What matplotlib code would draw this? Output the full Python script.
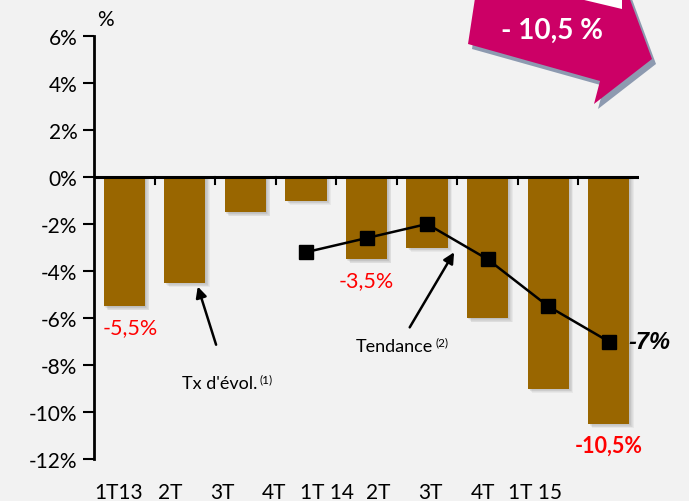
import numpy as np
import matplotlib.pyplot as plt
from matplotlib.patches import Polygon

plt.rcParams['font.family'] = ['Lato', 'DejaVu Sans']

# data
quarters = ["1T13", "2T", "3T", "4T", "1T 14", "2T", "3T", "4T", "1T 15"]
evol = [-5.5, -4.5, -1.5, -1.0, -3.5, -3.0, -6.0, -9.0, -10.5]
trend_idx = [3, 4, 5, 6, 7, 8]
trend = [-3.2, -2.6, -2.0, -3.5, -5.5, -7.0]
yticks = [6, 4, 2, 0, -2, -4, -6, -8, -10, -12]

W, H = 689, 502
bg = "#f2f2f2"
bar_col = "#996600"

fig = plt.figure(figsize=(W / 100, H / 100), dpi=100, facecolor=bg)
ax = fig.add_axes([94 / W, 1 - 460 / H, (639 - 94) / W, (460 - 37) / H], facecolor=bg)

x = np.arange(len(quarters))
bw = 0.68

# soft shadow behind the bars
for k in range(1, 7):
    ax.bar(x + 0.012 * k, np.array(evol) - 0.03 * k, width=bw, color="gray",
           alpha=0.09, zorder=1, linewidth=0)
ax.bar(x, evol, width=bw, color=bar_col, zorder=2, linewidth=0)

ax.plot(trend_idx, trend, color="black", lw=1.8, marker="s", markersize=9.5,
        zorder=4)

ax.set_xlim(-0.5, 8.5)
ax.set_ylim(-12, 6)
ax.set_yticks(yticks)
ax.set_yticklabels([f"{v}%" for v in yticks], fontsize=15)
ax.tick_params(axis="y", direction="out", length=8, width=1.5, pad=4)

for s in ["top", "right", "bottom"]:
    ax.spines[s].set_visible(False)
ax.spines["left"].set_linewidth(2)
ax.axhline(0, color="black", lw=2.2, zorder=5)

# boundary ticks along the zero line
ax.set_xticks([])
for b in np.arange(0.5, 8.5, 1.0):
    ax.plot([b, b], [0, -0.3], color="black", lw=1.5, zorder=5)

# category labels (they sit in their own text row in the original)
lab_x = -0.1 + 0.86 * np.arange(len(quarters))
for lx, q in zip(lab_x, quarters):
    ax.text(lx, -13.4, q, ha="center", va="center", fontsize=15, clip_on=False)

ax.text(-0.45, 6.3, "%", fontsize=15, ha="left", va="bottom")

# value labels
ax.text(0.1, -6.4, "-5,5%", color="red", fontsize=15.5, ha="center", va="center")
ax.text(4.0, -4.4, "-3,5%", color="red", fontsize=15.5, ha="center", va="center")
ax.text(8.0, -11.4, "-10,5%", color="red", fontsize=15.5, fontweight="bold",
        ha="center", va="center")
ax.text(8.33, -7.0, "-7%", color="black", fontsize=17, fontweight="bold",
        style="italic", family=["Liberation Sans", "DejaVu Sans"],
        ha="left", va="center")

# annotations
ax.annotate("", xy=(1.2, -4.55), xytext=(1.53, -7.25),
            arrowprops=dict(arrowstyle="-|>", color="black", lw=1.8,
                            mutation_scale=16))
t1 = ax.text(0.95, -8.75, "Tx d'évol.", fontsize=13, ha="left", va="center")
ax.annotate("(1)", xy=(1.03, 0.75), xycoords=t1, fontsize=8.5,
            ha="left", va="center")
ax.annotate("", xy=(5.47, -3.1), xytext=(4.69, -6.5),
            arrowprops=dict(arrowstyle="-|>", color="black", lw=1.8,
                            mutation_scale=16))
t2 = ax.text(3.83, -7.2, "Tendance", fontsize=13, ha="left", va="center")
ax.annotate("(2)", xy=(1.03, 0.75), xycoords=t2, fontsize=8.5,
            ha="left", va="center")


# pink arrow in the top right corner (figure pixel coords)
def px(pts):
    return [(a / W, 1 - b / H) for a, b in pts]


arrow = [(481, -40), (468, 45), (600, 82), (594, 105), (652, 60), (615, -40)]
shadow = [(a + 4, b + 5) for a, b in arrow]
fig.patches.append(Polygon(px(shadow), closed=True, transform=fig.transFigure,
                           facecolor="#8d9ab0", edgecolor="none", zorder=10))
fig.patches.append(Polygon(px(arrow), closed=True, transform=fig.transFigure,
                           facecolor="#cc0066", edgecolor="none", zorder=11))
fig.patches.append(Polygon(px([(580, 0), (622, 10), (622, 0)]), closed=True,
                           transform=fig.transFigure, facecolor="white",
                           edgecolor="none", zorder=12))
fig.text(552 / W, 1 - 31 / H, "- 10,5 %", color="white", fontsize=20,
         fontweight="bold", ha="center", va="center", zorder=13)

fig.savefig("out.png", dpi=100, facecolor=bg)
